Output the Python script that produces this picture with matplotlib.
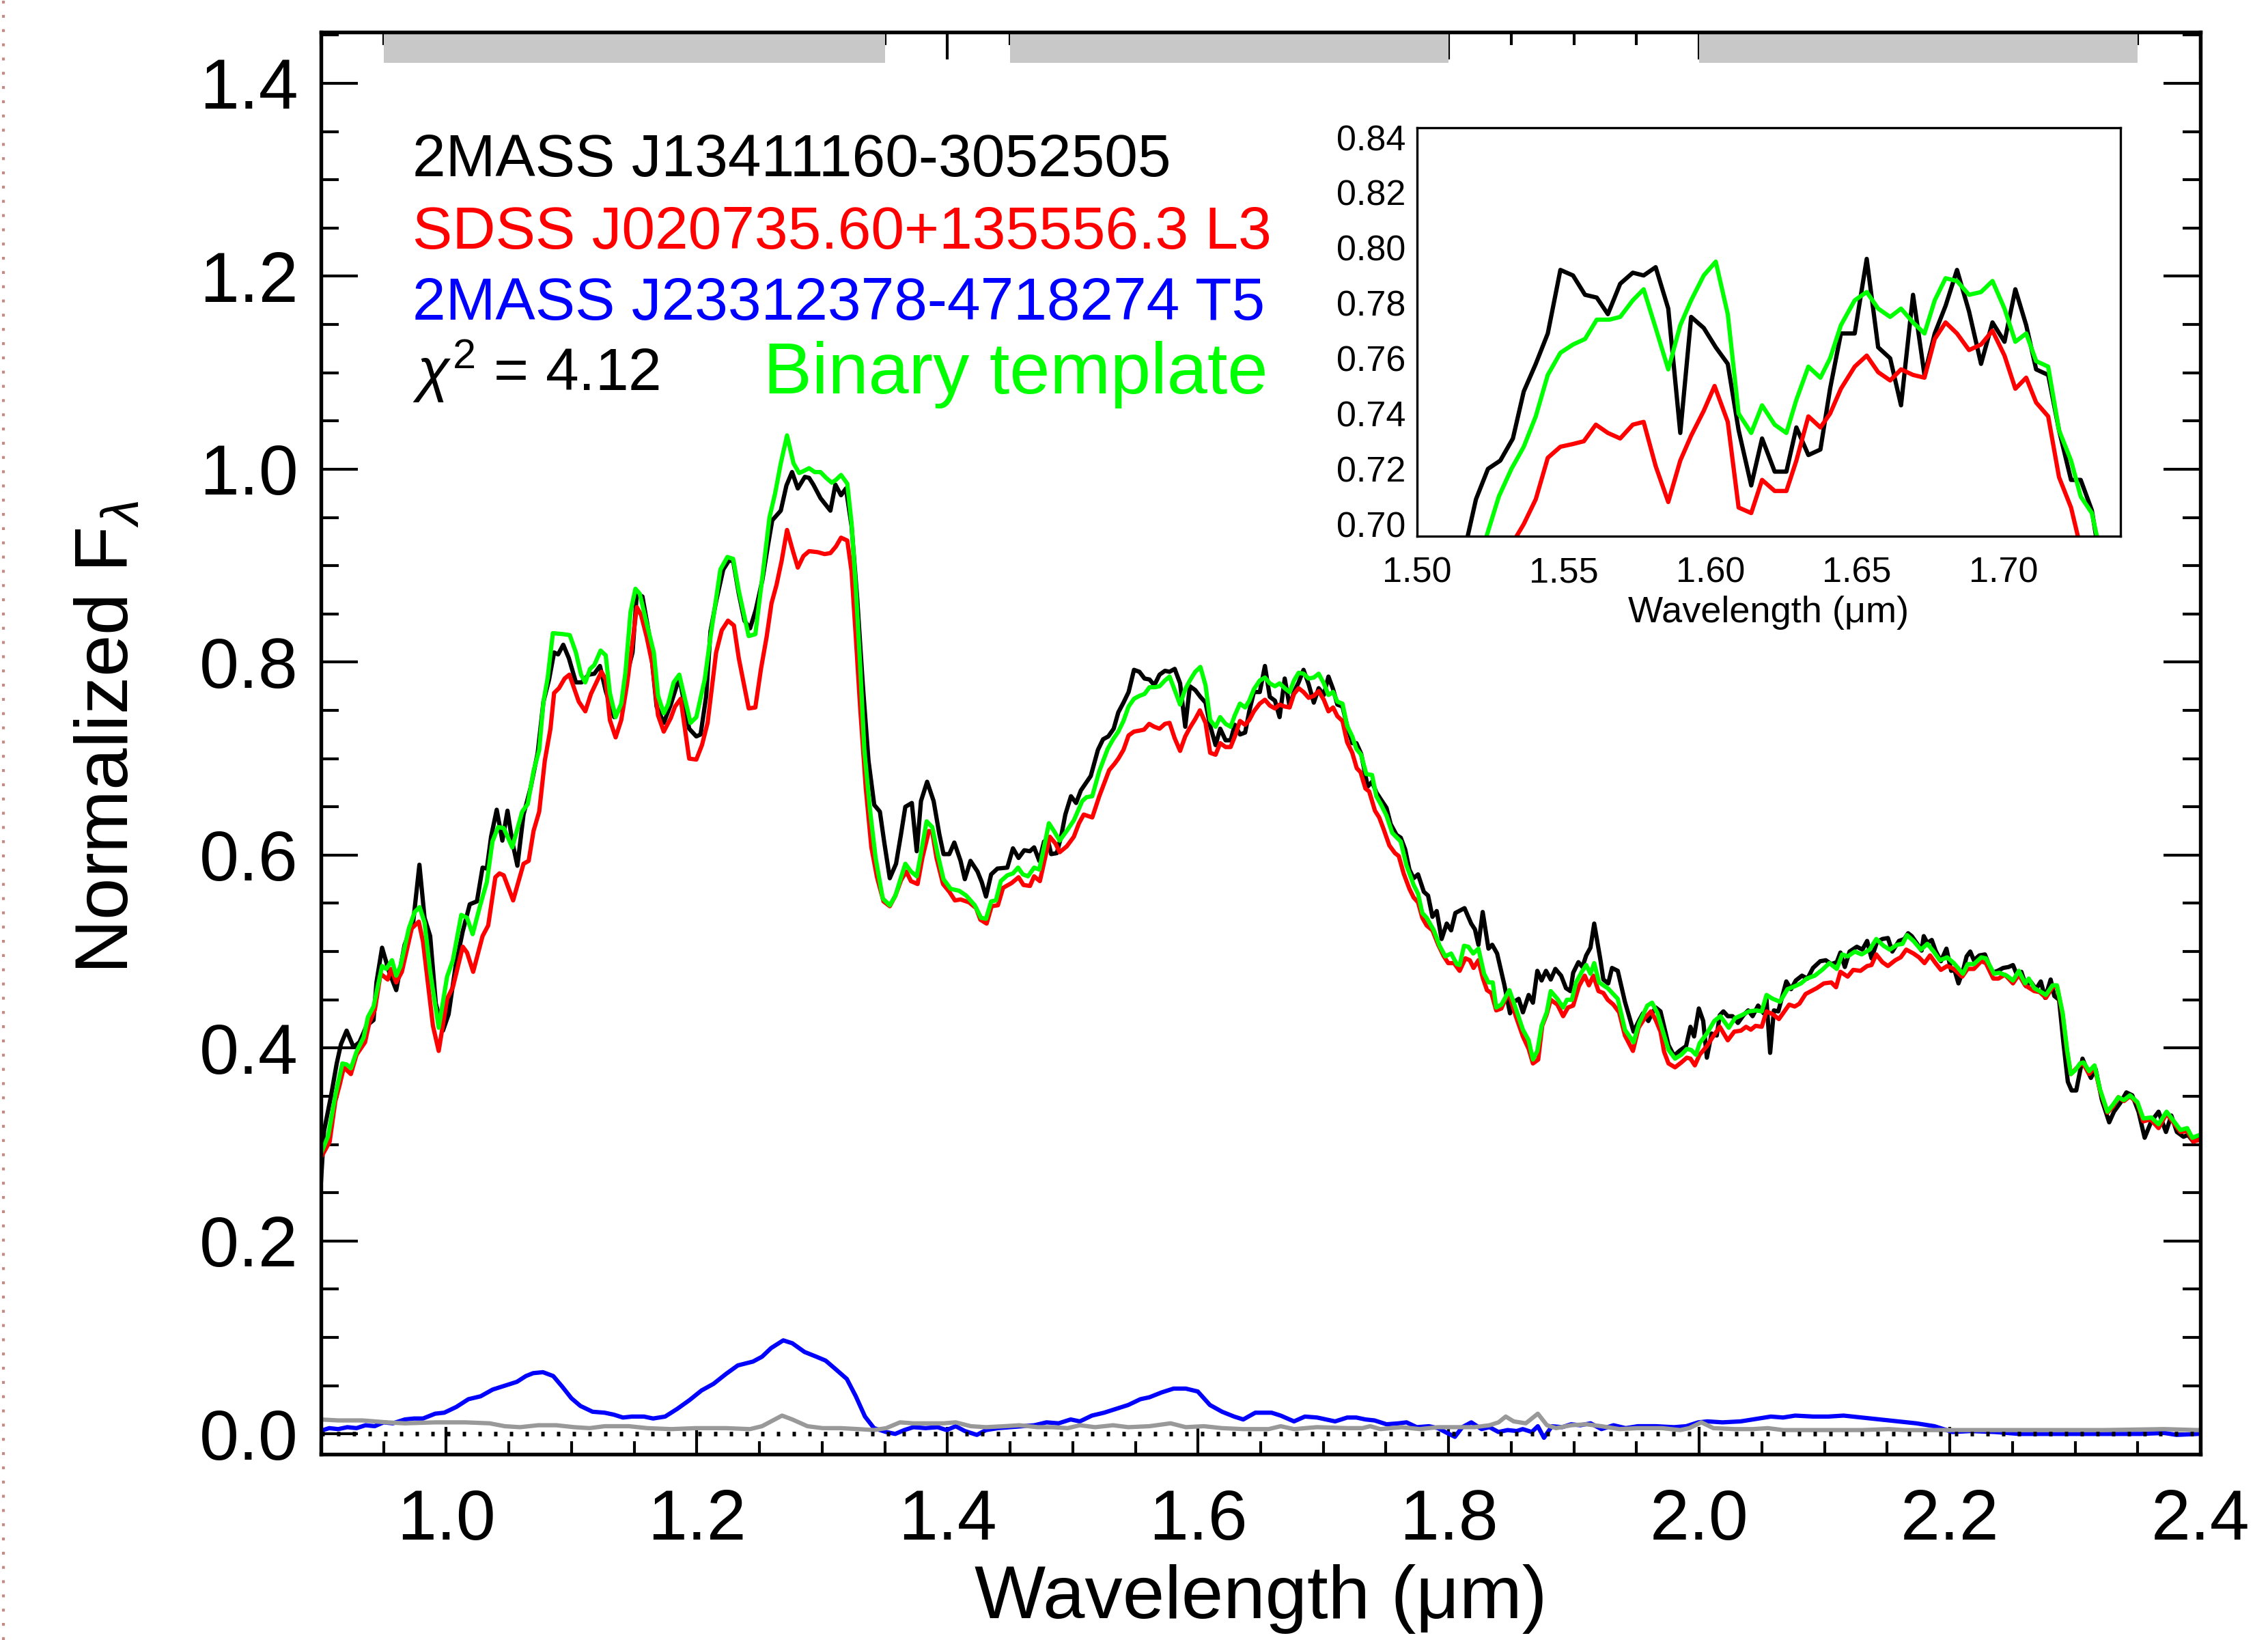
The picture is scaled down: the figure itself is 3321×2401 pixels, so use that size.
import numpy as np
import matplotlib
matplotlib.use('Agg')
import matplotlib.pyplot as plt
from matplotlib.lines import Line2D

plt.rcParams['font.family'] = ['Liberation Sans', 'DejaVu Sans']
plt.rcParams['mathtext.fontset'] = 'custom'
plt.rcParams['mathtext.rm'] = 'Liberation Sans'
plt.rcParams['mathtext.it'] = 'Liberation Sans:italic'

# (wavelength [um], normalized flux)
black_spec = [
    (0.899, 0.239), (0.9025, 0.314), (0.908, 0.350), (0.9126, 0.384), (0.916, 0.404),
    (0.9205, 0.418), (0.926, 0.401), (0.9307, 0.406), (0.9364, 0.423), (0.942, 0.429),
    (0.9443, 0.468), (0.9488, 0.504), (0.9544, 0.479), (0.9601, 0.460), (0.9668, 0.507),
    (0.9736, 0.530), (0.9786, 0.590), (0.9827, 0.535), (0.9872, 0.516), (0.9917, 0.446),
    (0.9974, 0.418), (1.0019, 0.435), (1.0075, 0.485), (1.0132, 0.521), (1.0188, 0.549),
    (1.0245, 0.552), (1.029, 0.587), (1.0324, 0.586), (1.0358, 0.619), (1.0403, 0.647),
    (1.0448, 0.615), (1.0489, 0.646), (1.0527, 0.614), (1.0568, 0.589), (1.0617, 0.642),
    (1.0674, 0.670), (1.073, 0.706), (1.0776, 0.759), (1.0821, 0.782), (1.0861, 0.810),
    (1.0893, 0.808), (1.0934, 0.818), (1.0979, 0.804), (1.1035, 0.779), (1.108, 0.779),
    (1.1137, 0.787), (1.1182, 0.788), (1.1227, 0.796), (1.1273, 0.770), (1.134, 0.743),
    (1.1397, 0.754), (1.1442, 0.787), (1.1487, 0.810), (1.1521, 0.871), (1.1566, 0.868),
    (1.1623, 0.826), (1.1679, 0.754), (1.1736, 0.737), (1.1792, 0.756), (1.186, 0.784),
    (1.1939, 0.731), (1.1996, 0.723), (1.203, 0.725), (1.2075, 0.765), (1.2109, 0.832),
    (1.2154, 0.863), (1.2211, 0.896), (1.2255, 0.905), (1.229, 0.905), (1.2335, 0.871),
    (1.238, 0.843), (1.2425, 0.835), (1.247, 0.854), (1.2523, 0.885), (1.2569, 0.922),
    (1.2602, 0.947), (1.2636, 0.952), (1.267, 0.957), (1.2715, 0.983), (1.276, 0.997),
    (1.2806, 0.980), (1.2862, 0.992), (1.2896, 0.991), (1.293, 0.984), (1.2987, 0.970),
    (1.3066, 0.957), (1.3106, 0.984), (1.3151, 0.973), (1.319, 0.980), (1.3235, 0.941),
    (1.328, 0.866), (1.3325, 0.776), (1.337, 0.698), (1.3416, 0.652), (1.3461, 0.645),
    (1.3495, 0.614), (1.354, 0.576), (1.359, 0.591), (1.363, 0.622), (1.3664, 0.650),
    (1.3716, 0.654), (1.3755, 0.604), (1.3789, 0.656), (1.3838, 0.676), (1.389, 0.656),
    (1.3935, 0.622), (1.3969, 0.601), (1.4015, 0.601), (1.4055, 0.613), (1.4105, 0.594),
    (1.4139, 0.575), (1.4184, 0.594), (1.424, 0.583), (1.4274, 0.572), (1.4308, 0.557),
    (1.4349, 0.580), (1.4399, 0.586), (1.4478, 0.587), (1.4523, 0.607), (1.4568, 0.597),
    (1.4613, 0.605), (1.4658, 0.604), (1.4692, 0.608), (1.4733, 0.594), (1.4771, 0.614),
    (1.4805, 0.614), (1.4828, 0.601), (1.4873, 0.602), (1.4907, 0.619), (1.4941, 0.642),
    (1.4986, 0.661), (1.5027, 0.654), (1.5065, 0.667), (1.5144, 0.682), (1.5201, 0.709),
    (1.5242, 0.720), (1.5284, 0.723), (1.5327, 0.731), (1.5364, 0.748), (1.5405, 0.758),
    (1.5446, 0.769), (1.5489, 0.792), (1.5532, 0.790), (1.5573, 0.783), (1.5613, 0.782),
    (1.5651, 0.776), (1.5693, 0.787), (1.5736, 0.791), (1.5773, 0.790), (1.5814, 0.793),
    (1.5857, 0.778), (1.5898, 0.733), (1.5935, 0.775), (1.5978, 0.771), (1.6019, 0.764),
    (1.606, 0.758), (1.6097, 0.734), (1.614, 0.714), (1.6177, 0.731), (1.622, 0.719),
    (1.626, 0.719), (1.6294, 0.735), (1.6335, 0.725), (1.6376, 0.727), (1.6409, 0.749),
    (1.6446, 0.769), (1.6493, 0.769), (1.6534, 0.796), (1.6573, 0.764), (1.6614, 0.760),
    (1.6651, 0.743), (1.6692, 0.783), (1.6731, 0.754), (1.6766, 0.769), (1.6803, 0.779),
    (1.6842, 0.792), (1.6883, 0.777), (1.6924, 0.758), (1.6963, 0.773), (1.7004, 0.766),
    (1.7041, 0.785), (1.7078, 0.772), (1.7112, 0.756), (1.7153, 0.754), (1.719, 0.734),
    (1.7231, 0.716), (1.7264, 0.716), (1.7302, 0.705), (1.7354, 0.671), (1.7389, 0.676),
    (1.7423, 0.665), (1.7458, 0.658), (1.7504, 0.649), (1.7538, 0.632), (1.7584, 0.621),
    (1.7618, 0.618), (1.7653, 0.606), (1.7687, 0.585), (1.7721, 0.576), (1.7756, 0.580),
    (1.7802, 0.562), (1.7836, 0.558), (1.7871, 0.536), (1.7905, 0.542), (1.7944, 0.513),
    (1.7985, 0.529), (1.802, 0.522), (1.8054, 0.540), (1.8127, 0.545), (1.818, 0.529),
    (1.821, 0.523), (1.8238, 0.507), (1.8272, 0.541), (1.8318, 0.503), (1.8348, 0.507),
    (1.8387, 0.498), (1.8444, 0.466), (1.849, 0.436), (1.8524, 0.448), (1.8559, 0.451),
    (1.8593, 0.437), (1.8639, 0.455), (1.8673, 0.447), (1.8708, 0.480), (1.8742, 0.470),
    (1.8777, 0.480), (1.8815, 0.471), (1.8852, 0.482), (1.8898, 0.475), (1.8937, 0.462),
    (1.8972, 0.459), (1.8994, 0.478), (1.9036, 0.489), (1.9068, 0.484), (1.9098, 0.496),
    (1.9132, 0.504), (1.9162, 0.529), (1.9212, 0.491), (1.9235, 0.471), (1.9274, 0.467),
    (1.9304, 0.483), (1.935, 0.480), (1.9407, 0.448), (1.9476, 0.417), (1.9521, 0.429),
    (1.9551, 0.436), (1.9594, 0.428), (1.9624, 0.436), (1.9653, 0.442), (1.9691, 0.438),
    (1.9726, 0.419), (1.9755, 0.403), (1.9799, 0.392), (1.9842, 0.397), (1.9895, 0.402),
    (1.993, 0.422), (1.9959, 0.412), (1.9997, 0.441), (2.0032, 0.428), (2.0061, 0.390),
    (2.0099, 0.415), (2.014, 0.413), (2.0164, 0.434), (2.0193, 0.438), (2.0228, 0.433),
    (2.0266, 0.433), (2.0309, 0.426), (2.0353, 0.434), (2.0391, 0.439), (2.0426, 0.433),
    (2.047, 0.444), (2.0514, 0.436), (2.0537, 0.450), (2.0566, 0.395), (2.0596, 0.439),
    (2.0631, 0.438), (2.0695, 0.469), (2.0733, 0.461), (2.0771, 0.470), (2.082, 0.475),
    (2.0864, 0.472), (2.0908, 0.483), (2.0966, 0.490), (2.101, 0.491), (2.1054, 0.487),
    (2.1098, 0.489), (2.1127, 0.499), (2.1162, 0.484), (2.12, 0.500), (2.1258, 0.505),
    (2.1302, 0.502), (2.134, 0.511), (2.1375, 0.493), (2.1419, 0.510), (2.1462, 0.513),
    (2.1506, 0.514), (2.1541, 0.500), (2.1594, 0.511), (2.1637, 0.513), (2.1667, 0.519),
    (2.1696, 0.516), (2.174, 0.508), (2.1775, 0.501), (2.1792, 0.516), (2.1821, 0.509),
    (2.1856, 0.512), (2.1886, 0.501), (2.1929, 0.490), (2.1973, 0.503), (2.2011, 0.480),
    (2.2037, 0.481), (2.2069, 0.467), (2.2105, 0.480), (2.2134, 0.495), (2.2163, 0.500),
    (2.2192, 0.491), (2.2236, 0.496), (2.228, 0.497), (2.2338, 0.478), (2.2382, 0.480),
    (2.2426, 0.483), (2.2469, 0.484), (2.2504, 0.486), (2.2542, 0.474), (2.2571, 0.479),
    (2.2609, 0.464), (2.2644, 0.469), (2.2688, 0.461), (2.2726, 0.469), (2.2761, 0.452),
    (2.2805, 0.471), (2.2834, 0.454), (2.2872, 0.450), (2.2907, 0.405), (2.2942, 0.365),
    (2.2972, 0.356), (2.3009, 0.356), (2.3059, 0.389), (2.3097, 0.377), (2.3126, 0.369),
    (2.3164, 0.378), (2.3214, 0.346), (2.3272, 0.323), (2.331, 0.334), (2.336, 0.343),
    (2.3409, 0.354), (2.3456, 0.351), (2.3506, 0.334), (2.3555, 0.307), (2.3608, 0.324),
    (2.3666, 0.334), (2.3725, 0.313), (2.3768, 0.330), (2.3812, 0.313), (2.3865, 0.308),
    (2.39, 0.310), (2.3943, 0.303), (2.3996, 0.308),
]

red_spec = [
    (0.8986, 0.283), (0.907, 0.303), (0.9115, 0.345), (0.915, 0.362), (0.9183, 0.380),
    (0.9239, 0.373), (0.9284, 0.393), (0.9352, 0.406), (0.9386, 0.426), (0.9431, 0.440),
    (0.9476, 0.477), (0.9533, 0.471), (0.956, 0.482), (0.9601, 0.468), (0.9646, 0.479),
    (0.9725, 0.524), (0.9781, 0.531), (0.9815, 0.510), (0.9894, 0.423), (0.994, 0.397),
    (1.0007, 0.451), (1.0053, 0.463), (1.0132, 0.505), (1.0166, 0.499), (1.0215, 0.479),
    (1.029, 0.516), (1.0335, 0.527), (1.0392, 0.577), (1.0425, 0.581), (1.0459, 0.579),
    (1.0534, 0.553), (1.0617, 0.591), (1.0658, 0.594), (1.0697, 0.625), (1.0742, 0.645),
    (1.0787, 0.698), (1.0832, 0.731), (1.0861, 0.768), (1.09, 0.773), (1.0945, 0.783),
    (1.0983, 0.787), (1.1058, 0.759), (1.111, 0.749), (1.1155, 0.767), (1.1239, 0.790),
    (1.1273, 0.782), (1.1306, 0.740), (1.1352, 0.722), (1.1397, 0.740), (1.1442, 0.776),
    (1.1487, 0.821), (1.1521, 0.857), (1.1555, 0.849), (1.16, 0.826), (1.1645, 0.798),
    (1.169, 0.745), (1.1736, 0.728), (1.1792, 0.742), (1.1826, 0.754), (1.1871, 0.762),
    (1.1939, 0.700), (1.1996, 0.699), (1.2041, 0.714), (1.2086, 0.737), (1.2154, 0.810),
    (1.2199, 0.833), (1.2249, 0.843), (1.2296, 0.838), (1.2335, 0.804), (1.2414, 0.752),
    (1.2467, 0.753), (1.2512, 0.793), (1.2557, 0.826), (1.2596, 0.861), (1.2636, 0.880),
    (1.2677, 0.905), (1.272, 0.937), (1.2765, 0.916), (1.2806, 0.898), (1.2851, 0.910),
    (1.2896, 0.915), (1.2964, 0.914), (1.302, 0.912), (1.3066, 0.913), (1.3111, 0.920),
    (1.3151, 0.929), (1.3201, 0.926), (1.3235, 0.894), (1.3269, 0.826), (1.3303, 0.754),
    (1.3348, 0.670), (1.3393, 0.608), (1.3438, 0.577), (1.349, 0.552), (1.354, 0.547),
    (1.3585, 0.558), (1.363, 0.574), (1.3671, 0.583), (1.3709, 0.573), (1.3762, 0.570),
    (1.38, 0.597), (1.3852, 0.625), (1.3879, 0.624), (1.3913, 0.597), (1.3965, 0.570),
    (1.4015, 0.562), (1.406, 0.553), (1.4105, 0.554), (1.4173, 0.551), (1.4229, 0.545),
    (1.4263, 0.533), (1.4313, 0.529), (1.4353, 0.547), (1.4403, 0.548), (1.4444, 0.566),
    (1.4512, 0.571), (1.4568, 0.577), (1.4607, 0.569), (1.4659, 0.568), (1.4692, 0.578),
    (1.4738, 0.573), (1.4817, 0.619), (1.4862, 0.612), (1.4896, 0.603), (1.4952, 0.609),
    (1.5009, 0.619), (1.505, 0.633), (1.5088, 0.642), (1.5156, 0.639), (1.5212, 0.661),
    (1.5291, 0.688), (1.5336, 0.695), (1.5364, 0.700), (1.5405, 0.709), (1.5446, 0.724),
    (1.5489, 0.728), (1.5532, 0.729), (1.5569, 0.730), (1.561, 0.736), (1.5651, 0.733),
    (1.5693, 0.731), (1.5736, 0.736), (1.5773, 0.737), (1.5814, 0.721), (1.5857, 0.708),
    (1.5898, 0.723), (1.5935, 0.732), (1.5978, 0.741), (1.6015, 0.750), (1.606, 0.737),
    (1.6097, 0.706), (1.614, 0.704), (1.6177, 0.716), (1.622, 0.712), (1.626, 0.712),
    (1.6294, 0.723), (1.6335, 0.739), (1.6376, 0.735), (1.6409, 0.740), (1.6446, 0.749),
    (1.6493, 0.757), (1.6534, 0.761), (1.6573, 0.755), (1.6614, 0.752), (1.6651, 0.756),
    (1.6692, 0.754), (1.6731, 0.753), (1.6766, 0.767), (1.6803, 0.773), (1.6842, 0.769),
    (1.6883, 0.763), (1.6924, 0.765), (1.6963, 0.770), (1.7004, 0.761), (1.7041, 0.749),
    (1.7078, 0.753), (1.7112, 0.744), (1.7153, 0.739), (1.719, 0.717), (1.7231, 0.706),
    (1.7267, 0.690), (1.7297, 0.686), (1.7336, 0.669), (1.7366, 0.666), (1.7412, 0.646),
    (1.7446, 0.639), (1.7481, 0.627), (1.7527, 0.610), (1.7572, 0.602), (1.7602, 0.599),
    (1.7641, 0.581), (1.7687, 0.565), (1.7721, 0.556), (1.7756, 0.551), (1.779, 0.535),
    (1.7825, 0.527), (1.7871, 0.522), (1.7917, 0.507), (1.7962, 0.495), (1.7997, 0.488),
    (1.8043, 0.488), (1.8088, 0.480), (1.8134, 0.493), (1.8169, 0.491), (1.8199, 0.483),
    (1.8238, 0.491), (1.8272, 0.473), (1.8306, 0.460), (1.8341, 0.457), (1.838, 0.439),
    (1.8421, 0.441), (1.8478, 0.458), (1.8536, 0.433), (1.8593, 0.412), (1.8639, 0.399),
    (1.8673, 0.384), (1.8715, 0.388), (1.8747, 0.423), (1.8783, 0.435), (1.8815, 0.450),
    (1.8868, 0.445), (1.8914, 0.433), (1.8953, 0.442), (1.8994, 0.444), (1.904, 0.464),
    (1.9086, 0.475), (1.912, 0.465), (1.9155, 0.475), (1.9196, 0.459), (1.9235, 0.457),
    (1.927, 0.450), (1.9315, 0.445), (1.9361, 0.437), (1.9407, 0.413), (1.9471, 0.397),
    (1.9516, 0.421), (1.9565, 0.431), (1.9615, 0.438), (1.9653, 0.429), (1.9691, 0.417),
    (1.972, 0.396), (1.9755, 0.384), (1.9807, 0.380), (1.9857, 0.385), (1.9901, 0.390),
    (1.993, 0.389), (1.9965, 0.382), (2.0003, 0.393), (2.0061, 0.402), (2.0111, 0.412),
    (2.0164, 0.422), (2.0228, 0.408), (2.028, 0.417), (2.0333, 0.418), (2.0374, 0.422),
    (2.0412, 0.419), (2.045, 0.423), (2.0499, 0.422), (2.0537, 0.438), (2.0587, 0.435),
    (2.0636, 0.430), (2.0718, 0.445), (2.0762, 0.443), (2.08, 0.446), (2.0849, 0.456),
    (2.0893, 0.459), (2.0937, 0.462), (2.0995, 0.467), (2.1054, 0.468), (2.1092, 0.463),
    (2.1127, 0.479), (2.1185, 0.474), (2.1229, 0.481), (2.1287, 0.480), (2.134, 0.485),
    (2.1375, 0.486), (2.1413, 0.497), (2.1462, 0.489), (2.1506, 0.485), (2.1565, 0.491),
    (2.1608, 0.494), (2.1652, 0.502), (2.171, 0.498), (2.1754, 0.494), (2.1798, 0.488),
    (2.1842, 0.496), (2.1886, 0.488), (2.1929, 0.481), (2.1979, 0.485), (2.2032, 0.482),
    (2.2099, 0.474), (2.2142, 0.482), (2.2192, 0.482), (2.2251, 0.490), (2.2288, 0.488),
    (2.2347, 0.472), (2.2388, 0.472), (2.244, 0.476), (2.2504, 0.467), (2.2551, 0.476),
    (2.2601, 0.465), (2.2674, 0.459), (2.2717, 0.458), (2.2767, 0.452), (2.282, 0.463),
    (2.2855, 0.464), (2.2901, 0.434), (2.2936, 0.396), (2.2966, 0.373), (2.301, 0.379),
    (2.3059, 0.385), (2.3112, 0.373), (2.3155, 0.380), (2.3199, 0.356), (2.3258, 0.333),
    (2.3301, 0.339), (2.3345, 0.349), (2.3389, 0.345), (2.3438, 0.350), (2.3497, 0.343),
    (2.3544, 0.324), (2.3602, 0.326), (2.3666, 0.317), (2.373, 0.332), (2.3783, 0.323),
    (2.3841, 0.313), (2.3894, 0.314), (2.3943, 0.303), (2.3996, 0.305),
]

green_spec = [
    (0.8986, 0.286), (0.9058, 0.309), (0.9115, 0.351), (0.9171, 0.384), (0.9205, 0.383),
    (0.9239, 0.379), (0.9284, 0.396), (0.9341, 0.411), (0.9375, 0.432), (0.942, 0.443),
    (0.9488, 0.485), (0.9522, 0.482), (0.9567, 0.491), (0.9601, 0.475), (0.9635, 0.485),
    (0.9702, 0.524), (0.9748, 0.541), (0.9788, 0.546), (0.9827, 0.530), (0.9872, 0.479),
    (0.994, 0.421), (1.0007, 0.474), (1.0053, 0.491), (1.012, 0.538), (1.0166, 0.535),
    (1.0211, 0.518), (1.0267, 0.546), (1.0324, 0.572), (1.0369, 0.614), (1.0414, 0.629),
    (1.0459, 0.628), (1.0527, 0.608), (1.0606, 0.645), (1.0651, 0.653), (1.0697, 0.687),
    (1.0742, 0.709), (1.0776, 0.759), (1.081, 0.784), (1.0851, 0.830), (1.0934, 0.829),
    (1.0986, 0.828), (1.1035, 0.810), (1.1076, 0.787), (1.111, 0.779), (1.1148, 0.793),
    (1.1182, 0.797), (1.1232, 0.812), (1.1273, 0.807), (1.1306, 0.768), (1.1352, 0.743),
    (1.1397, 0.757), (1.1431, 0.790), (1.1471, 0.852), (1.151, 0.876), (1.1544, 0.871),
    (1.16, 0.840), (1.1657, 0.810), (1.1691, 0.765), (1.1736, 0.747), (1.177, 0.756),
    (1.1815, 0.779), (1.186, 0.787), (1.1905, 0.762), (1.195, 0.737), (1.1996, 0.743),
    (1.2063, 0.782), (1.2109, 0.826), (1.2188, 0.896), (1.2244, 0.909), (1.229, 0.907),
    (1.2335, 0.874), (1.2414, 0.827), (1.2467, 0.829), (1.2523, 0.888), (1.258, 0.950),
    (1.2625, 0.975), (1.267, 1.006), (1.272, 1.035), (1.2772, 1.006), (1.2817, 0.996),
    (1.2851, 0.998), (1.2896, 1.001), (1.2941, 0.997), (1.2987, 0.997), (1.3032, 0.991),
    (1.3077, 0.986), (1.3111, 0.989), (1.3151, 0.994), (1.3201, 0.985), (1.3235, 0.944),
    (1.3269, 0.877), (1.3303, 0.798), (1.3337, 0.709), (1.3382, 0.647), (1.3427, 0.597),
    (1.3484, 0.555), (1.354, 0.548), (1.3585, 0.558), (1.363, 0.577), (1.3664, 0.591),
    (1.3709, 0.583), (1.3755, 0.578), (1.3789, 0.602), (1.3834, 0.635), (1.3879, 0.629),
    (1.3924, 0.600), (1.3969, 0.575), (1.4026, 0.565), (1.4094, 0.563), (1.415, 0.558),
    (1.4218, 0.548), (1.4268, 0.535), (1.4308, 0.534), (1.4349, 0.552), (1.4387, 0.553),
    (1.4426, 0.573), (1.4478, 0.579), (1.4523, 0.581), (1.4564, 0.587), (1.4602, 0.580),
    (1.4643, 0.578), (1.4692, 0.587), (1.4733, 0.585), (1.4771, 0.608), (1.481, 0.633),
    (1.485, 0.625), (1.4896, 0.615), (1.4952, 0.625), (1.5009, 0.636), (1.5076, 0.656),
    (1.511, 0.660), (1.5156, 0.661), (1.5212, 0.687), (1.5279, 0.710), (1.5322, 0.720),
    (1.5364, 0.728), (1.5405, 0.739), (1.5446, 0.754), (1.5489, 0.762), (1.5532, 0.765),
    (1.5573, 0.767), (1.5613, 0.774), (1.5656, 0.774), (1.5693, 0.775), (1.5736, 0.781),
    (1.5773, 0.785), (1.5814, 0.771), (1.5857, 0.756), (1.5898, 0.772), (1.5935, 0.781),
    (1.5978, 0.790), (1.6019, 0.795), (1.606, 0.776), (1.6097, 0.740), (1.614, 0.733),
    (1.6177, 0.743), (1.622, 0.736), (1.626, 0.733), (1.6294, 0.745), (1.6335, 0.757),
    (1.6376, 0.753), (1.6409, 0.760), (1.6446, 0.772), (1.6493, 0.781), (1.6534, 0.784),
    (1.6573, 0.778), (1.6614, 0.775), (1.6651, 0.778), (1.6692, 0.773), (1.6731, 0.769),
    (1.6766, 0.781), (1.6803, 0.789), (1.6842, 0.788), (1.6883, 0.783), (1.6924, 0.784),
    (1.6963, 0.788), (1.7004, 0.778), (1.7041, 0.766), (1.7078, 0.769), (1.7112, 0.759),
    (1.7153, 0.757), (1.719, 0.734), (1.7231, 0.723), (1.7264, 0.710), (1.7302, 0.704),
    (1.7343, 0.684), (1.7389, 0.683), (1.7423, 0.661), (1.7458, 0.653), (1.7504, 0.641),
    (1.755, 0.623), (1.7618, 0.614), (1.7664, 0.589), (1.7721, 0.569), (1.7756, 0.560),
    (1.779, 0.540), (1.7825, 0.535), (1.7882, 0.522), (1.7928, 0.506), (1.7974, 0.495),
    (1.802, 0.498), (1.8065, 0.487), (1.8088, 0.486), (1.8123, 0.506), (1.8157, 0.505),
    (1.8196, 0.498), (1.8238, 0.503), (1.8283, 0.477), (1.8318, 0.468), (1.8352, 0.468),
    (1.838, 0.442), (1.8421, 0.445), (1.8485, 0.460), (1.8536, 0.441), (1.8593, 0.419),
    (1.8639, 0.408), (1.8673, 0.388), (1.8708, 0.397), (1.8742, 0.423), (1.8783, 0.437),
    (1.8815, 0.459), (1.8868, 0.451), (1.8914, 0.442), (1.8944, 0.450), (1.8983, 0.450),
    (1.9017, 0.468), (1.9063, 0.479), (1.9098, 0.486), (1.9132, 0.477), (1.9162, 0.488),
    (1.9201, 0.468), (1.927, 0.462), (1.935, 0.451), (1.9407, 0.419), (1.9476, 0.406),
    (1.9521, 0.426), (1.9586, 0.444), (1.9624, 0.447), (1.9667, 0.436), (1.9711, 0.417),
    (1.9755, 0.398), (1.9807, 0.389), (1.9857, 0.393), (1.9901, 0.399), (1.9936, 0.398),
    (1.9974, 0.393), (2.0003, 0.405), (2.0061, 0.415), (2.012, 0.428), (2.0169, 0.433),
    (2.0236, 0.421), (2.0286, 0.431), (2.0339, 0.434), (2.0397, 0.438), (2.0455, 0.439),
    (2.0499, 0.438), (2.0537, 0.455), (2.0587, 0.451), (2.0645, 0.448), (2.0704, 0.461),
    (2.0762, 0.464), (2.0812, 0.467), (2.0858, 0.472), (2.0922, 0.475), (2.0981, 0.481),
    (2.1039, 0.488), (2.1098, 0.482), (2.1141, 0.497), (2.1185, 0.495), (2.1243, 0.500),
    (2.1296, 0.497), (2.136, 0.502), (2.1413, 0.513), (2.1471, 0.506), (2.1521, 0.502),
    (2.1579, 0.507), (2.1623, 0.508), (2.1658, 0.517), (2.171, 0.511), (2.1769, 0.502),
    (2.1821, 0.508), (2.1871, 0.500), (2.192, 0.491), (2.1979, 0.494), (2.2032, 0.488),
    (2.2105, 0.477), (2.2142, 0.487), (2.2192, 0.487), (2.2251, 0.494), (2.2288, 0.493),
    (2.2353, 0.477), (2.2396, 0.478), (2.2455, 0.475), (2.2504, 0.470), (2.2551, 0.480),
    (2.2601, 0.467), (2.263, 0.472), (2.2674, 0.462), (2.2717, 0.459), (2.2767, 0.455),
    (2.282, 0.465), (2.2855, 0.465), (2.2901, 0.436), (2.2936, 0.398), (2.2966, 0.373),
    (2.3001, 0.377), (2.3039, 0.384), (2.3068, 0.385), (2.3112, 0.376), (2.3155, 0.382),
    (2.3199, 0.357), (2.3258, 0.334), (2.3301, 0.341), (2.3345, 0.349), (2.3389, 0.346),
    (2.3438, 0.351), (2.3497, 0.344), (2.3544, 0.327), (2.3608, 0.328), (2.3666, 0.321),
    (2.373, 0.334), (2.3783, 0.325), (2.3841, 0.315), (2.3894, 0.317), (2.3935, 0.307),
    (2.3996, 0.310),
]

blue_spec = [
    (0.8994, 0.003), (0.9066, 0.006), (0.9138, 0.005), (0.9211, 0.007), (0.9284, 0.006),
    (0.9356, 0.009), (0.9429, 0.008), (0.95, 0.012), (0.9574, 0.011), (0.967, 0.015),
    (0.9743, 0.016), (0.9815, 0.016), (0.9912, 0.021), (0.9984, 0.022), (1.0081, 0.028),
    (1.0177, 0.036), (1.0274, 0.039), (1.0371, 0.046), (1.0467, 0.050), (1.0564, 0.054),
    (1.0636, 0.060), (1.0694, 0.063), (1.0772, 0.064), (1.0854, 0.060), (1.0926, 0.049),
    (1.0999, 0.037), (1.1071, 0.029), (1.1168, 0.023), (1.1264, 0.022), (1.1337, 0.020),
    (1.141, 0.017), (1.1482, 0.018), (1.1578, 0.018), (1.1651, 0.016), (1.1747, 0.018),
    (1.1844, 0.026), (1.1941, 0.035), (1.2037, 0.045), (1.2134, 0.052), (1.2231, 0.062),
    (1.2327, 0.071), (1.2448, 0.075), (1.252, 0.080), (1.2593, 0.089), (1.269, 0.097),
    (1.2762, 0.094), (1.2859, 0.085), (1.2955, 0.080), (1.3028, 0.076), (1.31, 0.068),
    (1.3197, 0.057), (1.3269, 0.039), (1.3342, 0.018), (1.3414, 0.006), (1.3511, 0.002),
    (1.3583, 0.000), (1.3656, 0.004), (1.3728, 0.007), (1.3825, 0.006), (1.3921, 0.007),
    (1.3994, 0.004), (1.4066, 0.008), (1.4139, 0.003), (1.4235, -0.001), (1.4308, 0.004),
    (1.4404, 0.006), (1.4501, 0.007), (1.4598, 0.008), (1.4694, 0.009), (1.4791, 0.012),
    (1.4887, 0.011), (1.4984, 0.015), (1.5057, 0.013), (1.5153, 0.019), (1.525, 0.022),
    (1.5347, 0.026), (1.5443, 0.030), (1.554, 0.036), (1.5612, 0.038), (1.5709, 0.043),
    (1.5805, 0.047), (1.5902, 0.047), (1.5998, 0.044), (1.6095, 0.030), (1.6192, 0.023),
    (1.6288, 0.018), (1.6361, 0.015), (1.6457, 0.022), (1.6587, 0.022), (1.666, 0.019),
    (1.6766, 0.013), (1.6853, 0.018), (1.695, 0.017), (1.7094, 0.013), (1.7191, 0.017),
    (1.7263, 0.017), (1.7336, 0.015), (1.7408, 0.014), (1.7505, 0.010), (1.7601, 0.011),
    (1.7664, 0.012), (1.7746, 0.007), (1.7843, 0.008), (1.7915, 0.006), (1.7973, 0.002),
    (1.805, -0.003), (1.8109, 0.007), (1.8181, 0.012), (1.8263, 0.005), (1.8326, 0.007),
    (1.8398, 0.002), (1.8471, 0.004), (1.8543, 0.003), (1.8592, 0.005), (1.8664, 0.002),
    (1.8712, 0.008), (1.8761, -0.004), (1.8824, 0.008), (1.8906, 0.007), (1.8978, 0.010),
    (1.9051, 0.009), (1.9133, 0.011), (1.922, 0.005), (1.9316, 0.009), (1.9413, 0.006),
    (1.951, 0.008), (1.9654, 0.008), (1.9799, 0.007), (1.9896, 0.008), (1.9993, 0.012),
    (2.0065, 0.013), (2.0186, 0.012), (2.0331, 0.013), (2.0476, 0.016), (2.0572, 0.018),
    (2.0669, 0.017), (2.0766, 0.019), (2.091, 0.018), (2.1031, 0.018), (2.1152, 0.019),
    (2.1297, 0.017), (2.1442, 0.015), (2.1587, 0.013), (2.1732, 0.011), (2.1877, 0.008),
    (2.2022, 0.002), (2.2166, 0.003), (2.236, 0.002), (2.2553, 0.000), (2.2746, 0.000),
    (2.294, 0.000), (2.3133, 0.000), (2.3326, 0.000), (2.352, 0.000), (2.3712, 0.001),
    (2.3809, -0.001), (2.3978, 0.000),
]

grey_spec = [
    (0.8994, 0.015), (0.9138, 0.014), (0.9235, 0.014), (0.9332, 0.014), (0.9429, 0.013),
    (0.9525, 0.012), (0.967, 0.011), (0.9912, 0.012), (1.0153, 0.012), (1.0346, 0.011),
    (1.0467, 0.008), (1.0588, 0.007), (1.0733, 0.009), (1.0878, 0.009), (1.1023, 0.007),
    (1.1144, 0.006), (1.1264, 0.008), (1.1458, 0.008), (1.1603, 0.006), (1.1796, 0.005),
    (1.1989, 0.006), (1.2231, 0.006), (1.2424, 0.005), (1.252, 0.008), (1.2593, 0.013),
    (1.268, 0.019), (1.2762, 0.015), (1.2883, 0.008), (1.3004, 0.006), (1.3148, 0.006),
    (1.3293, 0.005), (1.3414, 0.004), (1.3511, 0.006), (1.3622, 0.012), (1.3728, 0.011),
    (1.3873, 0.011), (1.397, 0.011), (1.4066, 0.012), (1.4187, 0.008), (1.4308, 0.007),
    (1.4453, 0.008), (1.4574, 0.009), (1.4719, 0.007), (1.4839, 0.007), (1.496, 0.006),
    (1.5057, 0.009), (1.5178, 0.007), (1.5322, 0.009), (1.5443, 0.007), (1.5612, 0.008),
    (1.5781, 0.011), (1.5902, 0.007), (1.6047, 0.008), (1.6192, 0.006), (1.6361, 0.005),
    (1.652, 0.005), (1.6563, 0.005), (1.666, 0.008), (1.6766, 0.005), (1.6949, 0.007),
    (1.7191, 0.006), (1.7312, 0.006), (1.7374, 0.008), (1.7456, 0.005), (1.7625, 0.007),
    (1.777, 0.005), (1.7915, 0.007), (1.806, 0.007), (1.8205, 0.007), (1.8326, 0.009),
    (1.8398, 0.012), (1.8456, 0.018), (1.8519, 0.013), (1.8616, 0.011), (1.8712, 0.021),
    (1.8785, 0.009), (1.8857, 0.006), (1.8978, 0.009), (1.9099, 0.010), (1.922, 0.008),
    (1.9365, 0.005), (1.951, 0.006), (1.9703, 0.006), (1.9848, 0.004), (1.992, 0.006),
    (2.0017, 0.012), (2.0113, 0.006), (2.0283, 0.005), (2.0427, 0.005), (2.0548, 0.006),
    (2.0669, 0.004), (2.0911, 0.004), (2.1152, 0.004), (2.1297, 0.004), (2.1514, 0.005),
    (2.1635, 0.004), (2.178, 0.004), (2.2022, 0.004), (2.2263, 0.004), (2.2746, 0.004),
    (2.323, 0.004), (2.3712, 0.005), (2.3978, 0.004),
]

# shaded telluric bands along the top
band_start = [0.95, 1.45, 2.00]
band_end = [1.35, 1.80, 2.35]

labels = ['2MASS J13411160-3052505', 'SDSS J020735.60+135556.3 L3',
          '2MASS J23312378-4718274 T5']
label_colors = ['black', '#ff0000', '#0000ff']
chi2_text = r'$\chi^2$ = 4.12'
template_label = 'Binary template'


def unpack(spec):
    a = np.array(sorted(spec))
    return a[:, 0], a[:, 1]


series = [
    (black_spec, 'black'),
    (red_spec, '#ff0000'),
    (blue_spec, '#0000ff'),
    (grey_spec, '#999999'),
    (green_spec, '#00ff00'),
]

fig = plt.figure(figsize=(3321 / 300, 2401 / 300), dpi=300)
ax = fig.add_axes([0.1415, 0.1133, 0.8287, 0.8671])

ylo, yhi = -0.021, 1.453
band_bottom = 1.421
for s, e in zip(band_start, band_end):
    ax.axvspan(s, e, ymin=(band_bottom - ylo) / (yhi - ylo), ymax=1.0,
               color='#c8c8c8', lw=0, zorder=2.6)

for spec, col in series:
    wl, fl = unpack(spec)
    ax.plot(wl, fl, color=col, lw=1.5, zorder=3)

ax.axhline(0, color='black', lw=1.6, ls=(0, (0.75, 2.7)), zorder=3.5)

ax.set_xlim(0.9, 2.4)
ax.set_ylim(ylo, yhi)
ax.set_xticks(np.arange(1.0, 2.41, 0.2))
ax.set_xticks(np.arange(0.9, 2.401, 0.05), minor=True)
ax.set_yticks(np.arange(0.0, 1.41, 0.2))
ax.set_yticks(np.arange(0.0, 1.451, 0.05), minor=True)
ax.xaxis.set_major_formatter(matplotlib.ticker.FormatStrFormatter('%.1f'))
ax.yaxis.set_major_formatter(matplotlib.ticker.FormatStrFormatter('%.1f'))

ax.tick_params(which='both', direction='in', top=True, right=True, width=1.0,
               labelsize=25)
ax.tick_params(axis='y', which='major', length=13, pad=8)
ax.tick_params(axis='y', which='minor', length=6.2)
ax.tick_params(axis='x', which='major', length=9.6, pad=12)
ax.tick_params(axis='x', which='minor', length=4.6)
for sp in ax.spines.values():
    sp.set_linewidth(1.3)
    sp.set_zorder(4)

ax.set_xlabel('Wavelength (\u03bcm)', fontsize=26.5)
ax.xaxis.label.set_va('baseline')
ax.xaxis.set_label_coords(0.5, -0.1155)
ax.set_ylabel(r'Normalized F$_\lambda$', fontsize=26.5)
ax.yaxis.label.set_va('center')
ax.yaxis.set_label_coords(-0.113, 0.504)

# label block
text_x = 0.973
baselines = [1.3034, 1.2283, 1.1547]
for txt, col, yb in zip(labels, label_colors, baselines):
    ax.text(text_x, yb, txt, color=col, fontsize=21, va='baseline', ha='left')
ax.text(text_x, 1.0811, chi2_text, color='black', fontsize=21, va='baseline', ha='left')
ax.text(1.656, 1.0782, template_label, color='#00ff00', fontsize=25.5,
        va='baseline', ha='right')

# inset zoom on the H band peak
ins = fig.add_axes([0.6248, 0.673, 0.3102, 0.249])
for spec, col in [(black_spec, 'black'), (red_spec, '#ff0000'), (green_spec, '#00ff00')]:
    wl, fl = unpack(spec)
    ins.plot(wl, fl, color=col, lw=1.5)
ins.set_xlim(1.5, 1.74)
ins.set_ylim(0.6956, 0.8434)
ins.set_xticks(np.arange(1.50, 1.701, 0.05))
ins.set_yticks(np.arange(0.70, 0.841, 0.02))
ins.xaxis.set_major_formatter(matplotlib.ticker.FormatStrFormatter('%.2f'))
ins.yaxis.set_major_formatter(matplotlib.ticker.FormatStrFormatter('%.2f'))
ins.tick_params(which='both', length=0, labelsize=12.5, pad=4)
ins.tick_params(axis='x', pad=7)
for sp in ins.spines.values():
    sp.set_linewidth(0.8)
ins.set_xlabel('Wavelength (\u03bcm)', fontsize=13, labelpad=2)

# faint dotted page edge on the far left
fig.add_artist(Line2D([0.0015, 0.0015], [0, 1], transform=fig.transFigure,
                      color='#a03a30', lw=1.0, ls=(0, (1, 4)), alpha=0.6))

fig.savefig('out.png', dpi=300)
